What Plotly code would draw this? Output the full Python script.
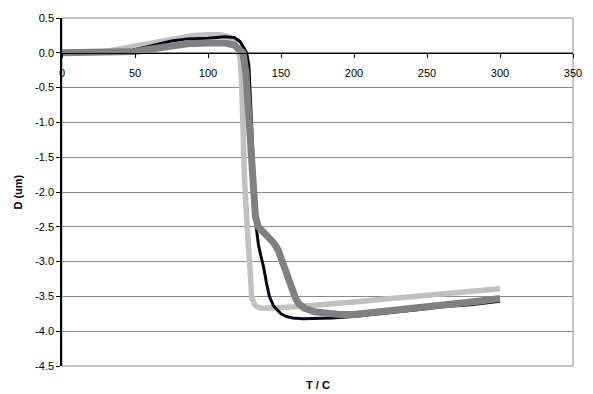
import plotly.graph_objects as go

# ---- data ----
black_T = [0, 20, 40, 47, 55, 65, 75, 86, 100, 112, 118, 122, 124.5, 126.5, 128, 129, 130, 131, 132, 133,
           134.5, 136, 138, 140, 142, 145, 148, 150, 154, 158, 165, 175, 185, 200, 215, 230, 245, 260, 280, 300]
black_D = [0, 0, 0.01, 0.03, 0.07, 0.12, 0.17, 0.2, 0.21, 0.23, 0.22, 0.16, 0.08, 0.0, -0.18, -0.6, -1.0, -1.5, -2.0, -2.5,
           -2.75, -2.9, -3.07, -3.3, -3.5, -3.64, -3.71, -3.75, -3.79, -3.81, -3.82, -3.82, -3.81, -3.79, -3.76, -3.72, -3.69, -3.65, -3.62, -3.57]

dgray_T = [0, 20, 40, 50, 60, 75, 86, 100, 112, 118, 121, 124, 126, 127.5, 129.5, 131, 132.5, 134.5, 138, 142,
           145, 148, 150, 152, 155, 157, 160, 162, 166, 173, 180, 190, 200, 210, 225, 240, 255, 270, 285, 300]
dgray_D = [0, 0, 0.01, 0.02, 0.05, 0.1, 0.13, 0.14, 0.14, 0.11, 0.06, 0.0, -0.3, -0.8, -1.4, -1.9, -2.35, -2.5, -2.58, -2.65,
           -2.73, -2.83, -2.95, -3.12, -3.3, -3.41, -3.53, -3.6, -3.67, -3.72, -3.74, -3.76, -3.76, -3.74, -3.71, -3.68, -3.64, -3.6, -3.57, -3.53]

lgray_T = [0, 15, 30, 40, 50, 60, 70, 80, 90, 100, 108, 113, 117, 119.5, 121, 122, 123, 124, 125, 126, 127, 128, 129, 130,
           131.5, 133, 136, 140, 150, 160, 180, 200, 220, 240, 260, 280, 300]
lgray_D = [0, 0, 0.02, 0.06, 0.1, 0.14, 0.18, 0.22, 0.25, 0.26, 0.26, 0.24, 0.19, 0.1, 0.02, -0.08, -0.4, -1.3, -1.8, -2.2, -2.6, -2.95, -3.3, -3.52,
           -3.6, -3.64, -3.67, -3.67, -3.66, -3.65, -3.62, -3.58, -3.54, -3.5, -3.46, -3.42, -3.39]

x_ticks = [0, 50, 100, 150, 200, 250, 300, 350]
y_ticks = [0.5, 0.0, -0.5, -1.0, -1.5, -2.0, -2.5, -3.0, -3.5, -4.0, -4.5]
y_ticktext = ["%.1f" % v for v in y_ticks]

fig = go.Figure()
fig.add_trace(go.Scatter(x=lgray_T, y=lgray_D, mode="lines",
                         line=dict(color="#c0c0c0", width=5.5), showlegend=False))
fig.add_trace(go.Scatter(x=black_T, y=black_D, mode="lines",
                         line=dict(color="#05051a", width=3), showlegend=False))
fig.add_trace(go.Scatter(x=dgray_T, y=dgray_D, mode="lines",
                         line=dict(color="#808080", width=7), showlegend=False))

y_min, y_max = -4.5, 0.5
zero_pos = (0 - y_min) / (y_max - y_min)
tfont = dict(family="Liberation Sans, Arial, sans-serif", size=11, color="black")

fig.update_layout(
    width=593, height=394,
    margin=dict(l=62, r=11, t=18, b=28),
    paper_bgcolor="white", plot_bgcolor="white",
    font=tfont,
    xaxis=dict(range=[0, 350], tickvals=x_ticks, ticks="outside", ticklen=4,
               tickcolor="black", showline=True, linecolor="black", linewidth=1,
               showgrid=False, zeroline=False, anchor="free", position=zero_pos,
               ticklabelstandoff=6, tickfont=tfont),
    yaxis=dict(range=[y_min, y_max], tickvals=y_ticks, ticktext=y_ticktext,
               ticks="outside", ticklen=4, tickcolor="black", showline=True,
               linecolor="black", linewidth=1.5, showgrid=True, gridcolor="#8a8a8a",
               gridwidth=1, zeroline=False, tickfont=tfont),
    shapes=[dict(type="rect", xref="paper", yref="paper", x0=0, x1=1, y0=0, y1=1,
                 line=dict(color="#8a8a8a", width=1), layer="below")],
    annotations=[
        dict(text="<b>T / C</b>", xref="paper", yref="paper", x=0.501, y=-0.055,
             xanchor="center", yanchor="middle", showarrow=False, font=tfont),
        dict(text="<b>D (um)</b>", xref="paper", yref="paper", x=-0.087, y=0.5,
             xanchor="center", yanchor="middle", showarrow=False, textangle=-90,
             font=tfont),
    ],
)

fig.write_html("out.html", config={"displayModeBar": False},
               post_script="document.body.style.margin='0';")
